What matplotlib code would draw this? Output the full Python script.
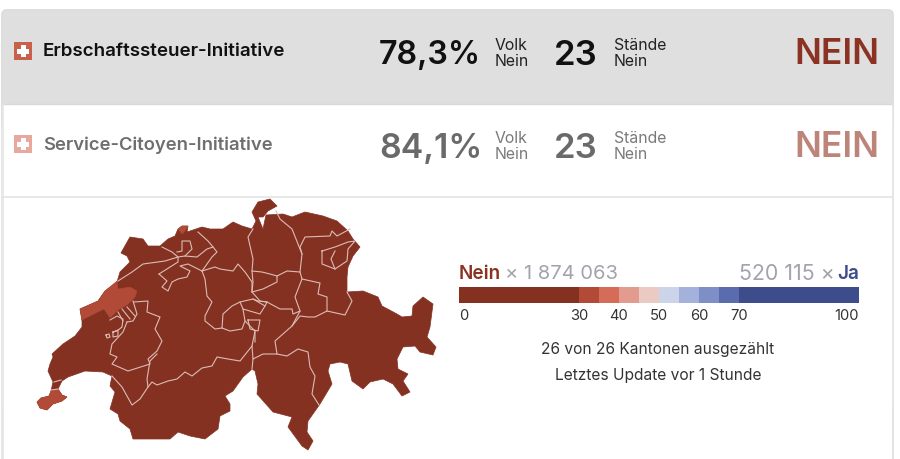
import matplotlib
matplotlib.use('Agg')
import matplotlib.pyplot as plt
from matplotlib.patches import FancyBboxPatch, Polygon, Rectangle

plt.rcParams['font.family'] = ['Inter', 'DejaVu Sans']

# --- DATA ---
votes = ['Erbschaftssteuer-Initiative', 'Service-Citoyen-Initiative']
volk_pct = ['78,3%', '84,1%']
staende = ['23', '23']
result = ['NEIN', 'NEIN']
nein_count = '1 874 063'
ja_count = '520 115'
bin_edges = [0, 30, 35, 40, 45, 50, 55, 60, 65, 70, 100]
bin_colors = ['#843122', '#b14a36', '#d46c57', '#e29c8f', '#eccac4',
              '#cbd4e9', '#a3b1db', '#7e8fc7', '#5a6cae', '#3d4c8a']
tick_values = [0, 30, 40, 50, 60, 70, 100]

# map outline and cantons
swiss_outline = [
    (37, 403), (41, 399), (49, 397), (51, 392), (53, 383), (48, 372), (50, 365), (53, 358), (52, 355),
    (63, 345), (75, 337), (82, 328), (82, 322), (80, 310), (98, 302), (105, 292), (117, 283), (120, 273),
    (130, 263), (127, 257), (121, 254), (126, 245), (130, 238), (143, 240), (148, 247), (160, 247),
    (168, 240), (175, 237), (178, 230), (182, 227), (188, 227), (187, 233), (202, 228), (210, 230),
    (223, 230), (233, 223), (242, 227), (252, 230), (256, 222), (252, 213), (258, 203), (270, 200),
    (277, 207), (268, 212), (263, 218), (258, 218), (263, 230), (266, 216), (283, 215), (292, 218),
    (305, 213), (323, 217), (337, 222), (348, 232), (353, 240), (360, 248), (353, 257), (348, 268),
    (347, 278), (347, 293), (363, 292), (378, 298), (382, 307), (397, 315), (402, 318), (412, 317),
    (413, 307), (423, 298), (433, 305), (430, 328), (427, 338), (436, 348), (433, 356), (420, 353),
    (415, 347), (403, 348), (397, 360), (398, 370), (408, 375), (403, 382), (410, 393), (402, 397),
    (393, 385), (383, 380), (370, 383), (363, 390), (352, 382), (348, 365), (340, 363), (330, 365),
    (328, 372), (332, 385), (320, 405), (308, 422), (307, 433), (313, 442), (308, 451), (302, 447),
    (288, 428), (292, 418), (273, 413), (257, 395), (258, 385), (255, 372), (252, 370), (243, 378),
    (233, 392), (225, 397), (230, 405), (230, 412), (220, 417), (218, 430), (205, 440), (190, 437),
    (178, 433), (170, 440), (133, 440), (130, 430), (120, 422), (118, 415), (110, 410), (115, 393),
    (110, 387), (112, 377), (103, 373), (85, 372), (68, 378), (62, 382), (58, 390), (62, 396), (67, 398),
    (62, 402), (53, 405), (47, 411), (40, 409),
]
lighter_geneva = [(37, 403), (41, 399), (49, 397), (51, 392), (58, 390), (62, 396), (67, 398), (62, 402),
                  (53, 405), (47, 411), (40, 409)]
lighter_neuenburg = [(80, 310), (82, 321), (104, 310), (110, 319), (118, 311), (127, 306), (135, 298),
                     (137, 292), (130, 288), (118, 290), (117, 282), (105, 292), (98, 302)]
lighter_basel = [(178, 230), (182, 227), (188, 227), (185, 232), (182, 235)]

canton_borders = [
    [(118, 282), (132, 273), (143, 265), (165, 262), (178, 258), (172, 253), (162, 248)],
    [(159, 275), (167, 282), (162, 288), (168, 292), (172, 283), (178, 280), (187, 278), (190, 272), (180, 267),
     (188, 265), (202, 272)],
    [(159, 275), (178, 263), (178, 258), (185, 257), (192, 250), (190, 242), (182, 242), (182, 252), (177, 253)],
    [(198, 233), (208, 242), (213, 248), (217, 253), (212, 258), (202, 272)],
    [(185, 257), (197, 258), (207, 250), (213, 248)],
    [(202, 272), (205, 280), (207, 297), (212, 303), (205, 317), (205, 322), (215, 330), (222, 329), (223, 315),
     (232, 307), (240, 303), (253, 300), (258, 302), (267, 303)],
    [(202, 272), (215, 268), (220, 270), (233, 272), (238, 265), (245, 273), (252, 283), (252, 293)],
    [(134, 303), (148, 302), (147, 313), (160, 318), (155, 330), (162, 342), (157, 352), (148, 360), (150, 365),
     (128, 372), (112, 365), (117, 358), (110, 355), (112, 345), (123, 333), (127, 323)],
    [(110, 321), (117, 317), (123, 320), (122, 328), (117, 332), (113, 333)],
    [(118, 313), (123, 322)], [(122, 310), (130, 320)], [(127, 308), (135, 317)],
    [(133, 302), (137, 315), (133, 322), (127, 323)],
    [(113, 333), (118, 331), (118, 337), (113, 338), (113, 333)],
    [(106, 336), (109, 335), (110, 338), (107, 339), (106, 336)],
    [(112, 377), (122, 388), (132, 406), (140, 400), (148, 388), (147, 380), (150, 362), (157, 355)],
    [(148, 388), (152, 383), (157, 386), (168, 382), (177, 380), (185, 373), (192, 377), (202, 369), (212, 367),
     (217, 358), (228, 360), (240, 362), (252, 347), (253, 342), (255, 332)],
    [(252, 347), (253, 360), (263, 355), (277, 355), (287, 357), (298, 350), (308, 353), (310, 368), (315, 377),
     (312, 395), (319, 406)],
    [(253, 360), (252, 370)],
    [(277, 355), (275, 342), (292, 327), (300, 317), (308, 318), (315, 318), (327, 312), (345, 316), (352, 302),
     (347, 293)],
    [(292, 327), (300, 312), (295, 298), (302, 280), (320, 284), (318, 295), (327, 298), (327, 312)],
    [(302, 280), (300, 273), (287, 272), (277, 277), (277, 283), (263, 290), (252, 293), (260, 302), (267, 303),
     (280, 310), (292, 310), (293, 315), (300, 312)],
    [(277, 277), (270, 275), (262, 273), (252, 272), (253, 283), (252, 293)],
    [(252, 272), (253, 260), (248, 238), (253, 230)],
    [(300, 273), (302, 255), (292, 230), (280, 220), (276, 212)],
    [(302, 255), (300, 248), (305, 238), (330, 237), (332, 232), (337, 237), (350, 230)],
    [(322, 252), (335, 248), (348, 243), (355, 242), (348, 250), (347, 262), (335, 270), (322, 265), (322, 252)],
    [(335, 252), (331, 260), (335, 270)],
    [(222, 329), (230, 332), (242, 330), (245, 322), (243, 310), (240, 303)],
    [(243, 310), (260, 315), (265, 307), (253, 300)],
    [(248, 321), (250, 330), (258, 332), (260, 321), (248, 321)],
    [(245, 322), (255, 332), (255, 343)],
    [(265, 307), (267, 303)],
    [(54, 383), (61, 381)], [(51, 391), (58, 390)],
]

MAP_DARK = bin_colors[0]
MAP_MID = bin_colors[1]
BORDER_GREY = '#e4e4e4'

fig = plt.figure(figsize=(9, 4.6), dpi=100)
ax = fig.add_axes([0, 0, 1, 1])
ax.set_xlim(0, 900)
ax.set_ylim(460, 0)
ax.axis('off')

# --- CARD ---
ax.add_patch(FancyBboxPatch((2, 11), 891, 520, boxstyle='round,pad=0,rounding_size=5',
                            fc='white', ec=BORDER_GREY, lw=1.2, zorder=1))
ax.add_patch(FancyBboxPatch((2, 11), 891, 120, boxstyle='round,pad=0,rounding_size=5',
                            fc='#dfdfdf', ec='#dcdcdc', lw=1, zorder=1.1))
ax.add_patch(Rectangle((2, 105), 891, 300, fc='white', ec='none', zorder=1.2))
ax.plot([2, 893], [105, 105], color='#d8d8d8', lw=1, zorder=2)
ax.plot([2, 893], [197.5, 197.5], color=BORDER_GREY, lw=1.2, zorder=2)
ax.plot([2.5, 2.5], [105, 460], color=BORDER_GREY, lw=1.2, zorder=2)
ax.plot([892.5, 892.5], [105, 460], color=BORDER_GREY, lw=1.2, zorder=2)

# --- ROWS ---
row_y = [52, 145]
title_size = [13.5, 13.3]
pct_size = [23.2, 24.4]
title_col = ['#111111', '#6f6f6f']
num_col = ['#111111', '#6a6a6a']
small_col = ['#222222', '#7a7a7a']
nein_col = ['#8b3222', '#bd8479']
flag_col = ['#c8604c', '#e8a89d']

for i, y in enumerate(row_y):
    ax.add_patch(Rectangle((14, y - 9), 18, 18, fc=flag_col[i], ec='none', zorder=3))
    ax.add_patch(Rectangle((20.5, y - 6), 5, 12, fc='white', ec='none', zorder=4))
    ax.add_patch(Rectangle((17, y - 2.5), 12, 5, fc='white', ec='none', zorder=4))
    ax.text(43, y, votes[i], fontsize=title_size[i], fontweight='semibold', color=title_col[i],
            va='center', ha='left', zorder=5)
    ax.text(379, y + 4, volk_pct[i], fontsize=pct_size[i], color=num_col[i], fontweight='semibold',
            va='center', ha='left', zorder=5)
    ax.text(495, y - 6, 'Volk', fontsize=11.4, color=small_col[i], va='center', ha='left', zorder=5)
    ax.text(495, y + 10, 'Nein', fontsize=11.4, color=small_col[i], va='center', ha='left', zorder=5)
    ax.text(554, y + 4, staende[i], fontsize=25, color=num_col[i], fontweight='semibold',
            va='center', ha='left', zorder=5)
    ax.text(614, y - 6, 'Stände', fontsize=11.4, color=small_col[i], va='center', ha='left', zorder=5)
    ax.text(614, y + 10, 'Nein', fontsize=11.4, color=small_col[i], va='center', ha='left', zorder=5)
    ax.text(879, y + 3, result[i], fontsize=25.5, color=nein_col[i], fontweight='semibold',
            va='center', ha='right', zorder=5)

# --- MAP ---
ax.add_patch(Polygon(swiss_outline, closed=True, fc=MAP_DARK, ec=MAP_DARK, lw=0.5, zorder=3))
for shape in [lighter_geneva, lighter_neuenburg, lighter_basel]:
    ax.add_patch(Polygon(shape, closed=True, fc=MAP_MID, ec=MAP_MID, lw=0.3, zorder=3.1))
for line in canton_borders:
    ax.plot([p[0] for p in line], [p[1] for p in line], color='#dcbcb5', lw=0.8, zorder=3.2,
            solid_joinstyle='round')

# --- LEGEND ---
ax_leg = fig.add_axes([459 / 900, 1 - 304 / 460, 400 / 900, 16 / 460])
ax_leg.set_xlim(0, 100)
ax_leg.set_ylim(0, 1)
ax_leg.axis('off')
for left, right, col in zip(bin_edges[:-1], bin_edges[1:], bin_colors):
    ax_leg.barh(0.5, right - left, left=left, height=1, color=col, lw=0)

for t in tick_values:
    ha = 'left' if t == 0 else 'right' if t == 100 else 'center'
    ax.text(459 + t * 4, 316, str(t), fontsize=10.6, color='#333333', ha=ha, va='center')

ax.text(459, 274, 'Nein', fontsize=13.6, fontweight='semibold', color='#8b3222', va='center', ha='left')
ax.text(505, 274, '× ' + nein_count, fontsize=14.5, color='#a3a3ad', va='center', ha='left')
ax.text(835, 274, ja_count + ' ×', fontsize=15.4, color='#a3a3ad', va='center', ha='right')
ax.text(859, 274, 'Ja', fontsize=13.6, fontweight='semibold', color='#3d4c8a', va='center', ha='right')
ax.text(658, 350, '26 von 26 Kantonen ausgezählt', fontsize=11.2, color='#333333', va='center', ha='center')
ax.text(658, 376, 'Letztes Update vor 1 Stunde', fontsize=11.2, color='#333333', va='center', ha='center')

fig.savefig('out.png', dpi=100)
